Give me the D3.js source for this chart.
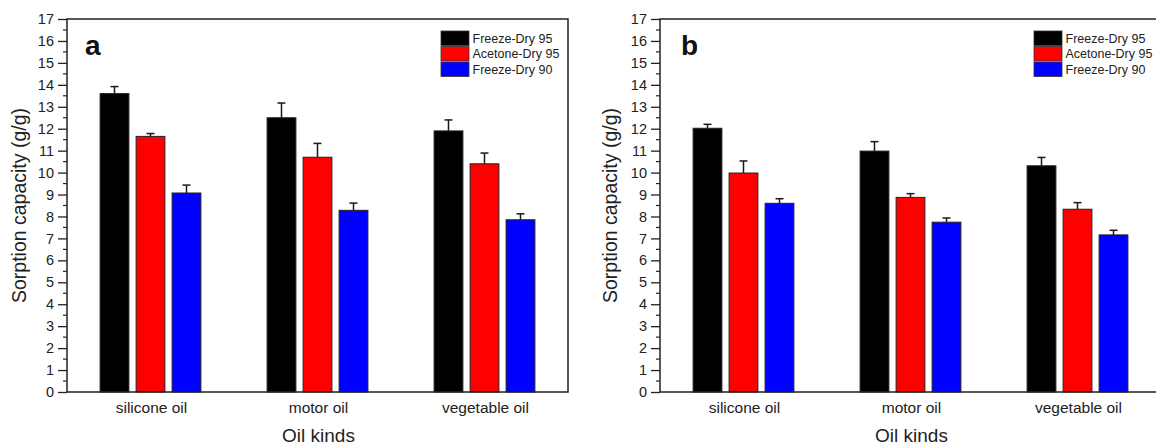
<!DOCTYPE html>
<html>
<head>
<meta charset="utf-8">
<script src="https://cdn.jsdelivr.net/npm/d3@7"></script>
<style>
  body { margin: 0; background: #fff; }
  svg { display: block; font-family: "Liberation Sans", Arial, sans-serif; }
</style>
</head>
<body>
<svg id="chart" width="1156" height="446"></svg>
<script>
// categories and series
var categories = ["silicone oil", "motor oil", "vegetable oil"];
var seriesNames = ["Freeze-Dry 95", "Acetone-Dry 95", "Freeze-Dry 90"];
var seriesColors = ["#000000", "#ff0000", "#0000ff"];
var yTicks = d3.range(0, 18);

// panel a values (mean) and upper error
var aFreeze95 = [13.6, 12.5, 11.9];
var aAcetone95 = [11.65, 10.7, 10.4];
var aFreeze90 = [9.07, 8.28, 7.85];
var aFreeze95Err = [0.32, 0.67, 0.5];
var aAcetone95Err = [0.13, 0.63, 0.49];
var aFreeze90Err = [0.36, 0.33, 0.27];

// panel b values (mean) and upper error
var bFreeze95 = [12.02, 10.98, 10.31];
var bAcetone95 = [9.98, 8.87, 8.33];
var bFreeze90 = [8.6, 7.74, 7.16];
var bFreeze95Err = [0.18, 0.43, 0.38];
var bAcetone95Err = [0.55, 0.17, 0.3];
var bFreeze90Err = [0.21, 0.19, 0.21];

var svg = d3.select("#chart");

function drawPanel(opts) {
    var left = opts.left, right = opts.left + 501, top = 19, bottom = 392;
    var g = svg.append("g");

    var y = d3.scaleLinear().domain([0, 17]).range([bottom, top]);
    var x0 = d3.scaleBand().domain(categories).range([left, right]);
    var x1 = d3.scaleBand().domain(seriesNames).range([-54, 54])
        .paddingInner(0.2).paddingOuter(0.1);

    var rows = [];
    categories.forEach(function (c, i) {
        seriesNames.forEach(function (s, j) {
            rows.push({ cat: c, series: s, color: seriesColors[j],
                value: opts.values[j][i], err: opts.errors[j][i] });
        });
    });

    // error bars (upper only), drawn first so bar top covers the base
    var eb = g.append("g").attr("stroke", "#1a1a1a").attr("stroke-width", 1.5);
    rows.forEach(function (d) {
        var cx = x0(d.cat) + x0.bandwidth() / 2 + x1(d.series) + x1.bandwidth() / 2;
        eb.append("line").attr("x1", cx).attr("x2", cx)
            .attr("y1", y(d.value)).attr("y2", y(d.value + d.err));
        eb.append("line").attr("x1", cx - 4).attr("x2", cx + 4)
            .attr("y1", y(d.value + d.err)).attr("y2", y(d.value + d.err));
    });

    g.append("g").selectAll("rect").data(rows).enter().append("rect")
        .attr("x", function (d) { return x0(d.cat) + x0.bandwidth() / 2 + x1(d.series); })
        .attr("y", function (d) { return y(d.value); })
        .attr("width", x1.bandwidth())
        .attr("height", function (d) { return bottom - y(d.value); })
        .attr("fill", function (d) { return d.color; })
        .attr("stroke", "#222").attr("stroke-width", 1);

    // frame
    g.append("path")
        .attr("d", "M" + left + "," + bottom + "V" + top + "H" + right + "V" + bottom + "Z")
        .attr("fill", "none").attr("stroke", "#222").attr("stroke-width", 1.5);

    // y axis with major + minor ticks
    var yAxis = d3.axisLeft(y).tickValues(yTicks).tickSize(9).tickPadding(4)
        .tickFormat(d3.format("d"));
    var ya = g.append("g").attr("transform", "translate(" + left + ",0)").call(yAxis);
    ya.select(".domain").remove();
    ya.selectAll("line").attr("stroke", "#222").attr("stroke-width", 1.3);
    ya.selectAll("text").attr("font-size", 14.5).attr("fill", "#222");
    var minor = d3.range(0.5, 17, 1);
    g.append("g").selectAll("line").data(minor).enter().append("line")
        .attr("x1", left - 4).attr("x2", left)
        .attr("y1", function (d) { return y(d); }).attr("y2", function (d) { return y(d); })
        .attr("stroke", "#222").attr("stroke-width", 1.2);

    // x tick labels
    g.append("g").selectAll("text").data(categories).enter().append("text")
        .attr("x", function (d) { return x0(d) + x0.bandwidth() / 2 + 1; })
        .attr("y", 413).attr("text-anchor", "middle")
        .attr("font-size", 15.5).attr("fill", "#222")
        .text(function (d) { return d; });

    // axis titles
    g.append("text").attr("x", (left + right) / 2 + 1).attr("y", 442)
        .attr("text-anchor", "middle").attr("font-size", 19).attr("fill", "#222")
        .text("Oil kinds");
    g.append("text")
        .attr("transform", "translate(" + opts.ylabelX + "," + (top + bottom) / 2 + ") rotate(-90)")
        .attr("text-anchor", "middle").attr("dominant-baseline", "central")
        .attr("font-size", 19.5).attr("fill", "#222")
        .text("Sorption capacity (g/g)");

    // panel letter
    g.append("text").attr("x", left + opts.letterDx).attr("y", 55)
        .attr("font-size", 28).attr("font-weight", "bold").attr("fill", "#111")
        .text(opts.letter);

    // legend
    var lg = g.append("g").attr("transform", "translate(" + opts.legendX + ",31)");
    seriesNames.forEach(function (s, i) {
        lg.append("rect").attr("x", 0).attr("y", i * 15.5).attr("width", 28).attr("height", 14.5)
            .attr("fill", seriesColors[i]).attr("stroke", "#333").attr("stroke-width", 0.8);
        lg.append("text").attr("x", 31.5).attr("y", i * 15.5 + 7.5)
            .attr("dominant-baseline", "central").attr("font-size", 12.5).attr("fill", "#222")
            .text(s);
    });
}

drawPanel({ left: 67, ylabelX: 19, letter: "a", letterDx: 18, legendX: 441,
    values: [aFreeze95, aAcetone95, aFreeze90],
    errors: [aFreeze95Err, aAcetone95Err, aFreeze90Err] });
drawPanel({ left: 660, ylabelX: 610, letter: "b", letterDx: 21, legendX: 1034,
    values: [bFreeze95, bAcetone95, bFreeze90],
    errors: [bFreeze95Err, bAcetone95Err, bFreeze90Err] });
</script>
</body>
</html>
